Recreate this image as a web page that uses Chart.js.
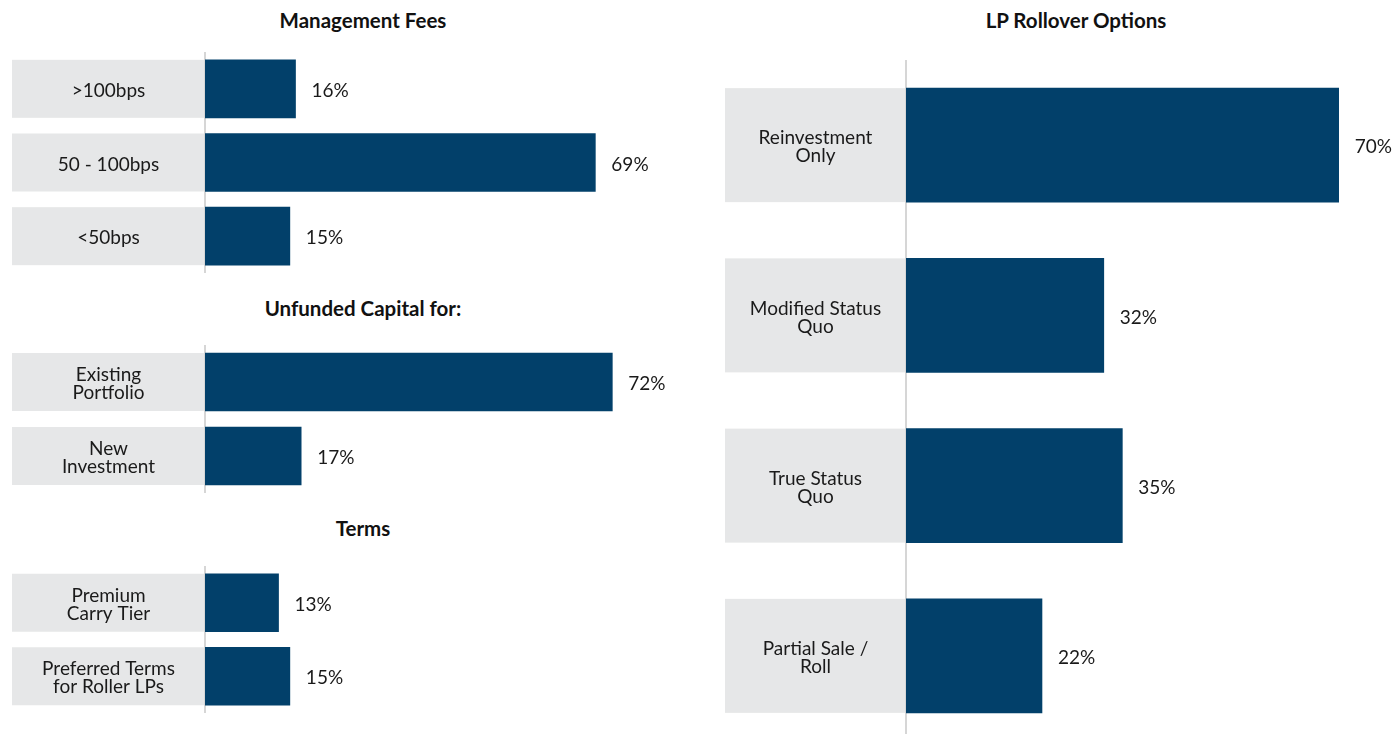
<!DOCTYPE html>
<html>
<head>
<meta charset="utf-8">
<script src="https://cdn.jsdelivr.net/npm/chart.js@4"></script>
<style>
  html, body { margin: 0; padding: 0; background: #fff; overflow: hidden; }
  body { width: 1398px; height: 734px; position: relative; font-family: Lato, sans-serif; }
  .box { position: absolute; }
  .title { position: absolute; font-weight: 700; font-size: 20.5px; color: #111; text-align: center; }
</style>
</head>
<body>
<div class="title" style="left:0;width:726px;top:8px;">Management Fees</div>
<div class="title" style="left:0;width:726px;top:296px;">Unfunded Capital for:</div>
<div class="title" style="left:0;width:726px;top:516px;">Terms</div>
<div class="title" style="left:754px;width:644px;top:8px;">LP Rollover Options</div>

<div class="box" style="left:0;top:52px;width:700px;height:221px;"><canvas id="feesChart"></canvas></div>
<div class="box" style="left:0;top:345px;width:700px;height:148px;"><canvas id="capitalChart"></canvas></div>
<div class="box" style="left:0;top:566px;width:700px;height:147px;"><canvas id="termsChart"></canvas></div>
<div class="box" style="left:700px;top:60px;width:698px;height:681px;"><canvas id="rolloverChart"></canvas></div>

<script>
'use strict';

const feeLabels = ['>100bps', '50 - 100bps', '<50bps'];
const feeValues = [16, 69, 15];

const capitalLabels = [['Existing', 'Portfolio'], ['New', 'Investment']];
const capitalValues = [72, 17];

const termsLabels = [['Premium', 'Carry Tier'], ['Preferred Terms', 'for Roller LPs']];
const termsValues = [13, 15];

const rolloverLabels = [['Reinvestment', 'Only'], ['Modified Status', 'Quo'], ['True Status', 'Quo'], ['Partial Sale /', 'Roll']];
const rolloverValues = [70, 32, 35, 22];

const barColor = '#02406a';
const boxColor = '#e6e7e8';
const textColor = '#1a1a1a';
const fontFamily = 'Lato, sans-serif';

// grey label boxes + category text on the left, value labels after the bars
const labelPlugin = {
  id: 'labelBoxes',
  beforeDatasetsDraw(chart, args, opts) {
    const ctx = chart.ctx;
    const yScale = chart.scales.y;
    const meta = chart.getDatasetMeta(0);
    ctx.save();
    chart.data.labels.forEach((lab, i) => {
      const bar = meta.data[i];
      const h = bar.height;
      const yc = yScale.getPixelForValue(i);
      ctx.fillStyle = boxColor;
      ctx.fillRect(opts.boxLeft, yc - h / 2, chart.chartArea.left - 1 - opts.boxLeft, h);
      const lines = Array.isArray(lab) ? lab : [lab];
      const lh = 18;
      const cx = (opts.boxLeft + chart.chartArea.left) / 2;
      ctx.fillStyle = textColor;
      ctx.font = '19px ' + fontFamily;
      ctx.textAlign = 'center';
      ctx.textBaseline = 'middle';
      lines.forEach((ln, k) => {
        ctx.fillText(ln, cx, yc + 2 + (k - (lines.length - 1) / 2) * lh);
      });
    });
    ctx.restore();
  },
  afterDatasetsDraw(chart) {
    const ctx = chart.ctx;
    const meta = chart.getDatasetMeta(0);
    const vals = chart.data.datasets[0].data;
    ctx.save();
    ctx.fillStyle = textColor;
    ctx.font = '19px ' + fontFamily;
    ctx.textAlign = 'left';
    ctx.textBaseline = 'middle';
    meta.data.forEach((bar, i) => {
      ctx.fillText(vals[i] + '%', bar.x + 16, bar.y + 2);
    });
    ctx.restore();
  }
};

function makeChart(id, labels, values, opt) {
  const ctx = document.getElementById(id).getContext('2d');
  return new Chart(ctx, {
    type: 'bar',
    data: {
      labels: labels,
      datasets: [{
        data: values,
        backgroundColor: barColor,
        borderWidth: 0,
        barThickness: opt.thickness
      }]
    },
    options: {
      indexAxis: 'y',
      responsive: true,
      maintainAspectRatio: false,
      animation: false,
      layout: { padding: 0 },
      plugins: {
        legend: { display: false },
        tooltip: { enabled: false },
        labelBoxes: { boxLeft: opt.boxLeft }
      },
      scales: {
        x: {
          display: false,
          min: 0,
          max: opt.max
        },
        y: {
          afterFit(scale) { scale.width = opt.axisWidth; },
          ticks: { display: false },
          grid: { display: false, drawTicks: false },
          border: { display: true, color: '#d6d6d6', width: 2 }
        }
      }
    },
    plugins: [labelPlugin]
  });
}

makeChart('feesChart', feeLabels, feeValues, { thickness: 58, boxLeft: 12, axisWidth: 205, max: 87.5 });
makeChart('capitalChart', capitalLabels, capitalValues, { thickness: 58, boxLeft: 12, axisWidth: 205, max: 87.5 });
makeChart('termsChart', termsLabels, termsValues, { thickness: 58, boxLeft: 12, axisWidth: 205, max: 87.5 });
makeChart('rolloverChart', rolloverLabels, rolloverValues, { thickness: 114, boxLeft: 25, axisWidth: 206, max: 79.6 });
</script>
</body>
</html>
